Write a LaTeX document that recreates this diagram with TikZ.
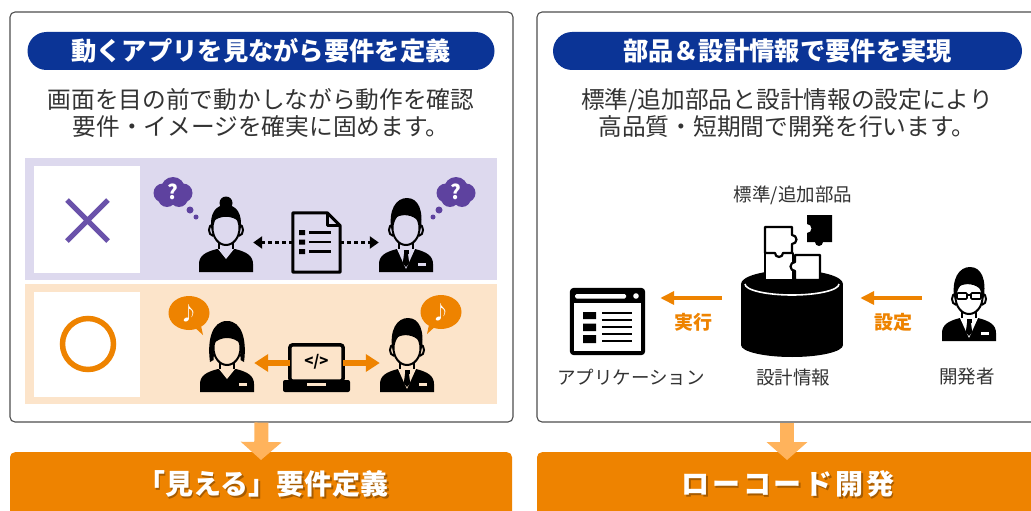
\documentclass[tikz,border=0pt]{standalone}
\usepackage{fontspec}
\setmainfont{Noto Sans CJK JP}
\usetikzlibrary{arrows.meta}

\definecolor{headblue}{HTML}{0B3496}
\definecolor{rowpurple}{HTML}{DDD9EE}
\definecolor{rowpeach}{HTML}{FCE4CA}
\definecolor{markpurple}{HTML}{6A52AA}
\definecolor{cloudpurple}{HTML}{5E429F}
\definecolor{accent}{HTML}{EE8300}
\definecolor{arrowlight}{HTML}{FFB35C}
\definecolor{inkgray}{HTML}{333333}
\definecolor{framegray}{HTML}{4D4D4D}
\colorlet{iconbg}{white}

\newcommand{\fsz}[1]{\fontsize{#1}{#1}\selectfont}

\begin{document}
\begin{tikzpicture}[x=1pt,y=-1pt]
        \tikzset{panel/.style = {draw=framegray, line width=1.1pt, rounded corners=5pt, fill=white, inner sep=0}}
        \tikzset{pill/.style = {fill=headblue, rounded corners=19pt, minimum height=38pt, text=white, font=\bfseries\fsz{25.3}, inner sep=0}}
        \tikzset{lead/.style = {text=inkgray, font=\fontsize{23.7}{27}\selectfont, align=center, inner sep=0}}
        \tikzset{caption/.style = {text=inkgray, font=\fsz{18.5}, inner sep=0}}
        \tikzset{tag/.style = {text=accent, font=\bfseries\fsz{19}, inner sep=0}}
        \tikzset{bar/.style = {fill=accent, rounded corners=5pt, minimum height=90pt, inner sep=0, anchor=north}}
        \tikzset{bartext/.style = {text=white, font=\bfseries\fsz{28}, inner sep=0}}
        \tikzset{iconbox/.style = {inner sep=0, minimum width=54pt, minimum height=70pt}}
        \tikzset{dotflow/.style = {line width=3pt, dash pattern=on 4pt off 3pt, -{Triangle[length=9pt,width=12pt]}}}
        \tikzset{bothflow/.style = {line width=6pt, accent, -{Triangle[length=14pt,width=17pt]}}}
        \tikzset{flow/.style = {line width=4pt, accent, -{Triangle[length=14pt,width=13pt]}}}
        \tikzset{down/.style = {line width=14pt, arrowlight, -{Triangle[length=18pt,width=40pt]}}}
        \tikzset{piece/.style = {draw, line width=2.2pt, fill=white, line join=round}}
        % people icons, origin at the face
        \tikzset{
          torso/.pic = {
            \fill (-27,44) -- (-27,36) .. controls (-27,28) and (-21,24) .. (-9,21) -- (9,21) .. controls (21,24) and (27,28) .. (27,36) -- (27,44) -- cycle;
            \draw[line width=2pt] (-7,12) -- (-7,21) (7,12) -- (7,21);
            \draw[line width=2pt, fill=iconbg] (-13.5,2) ellipse [x radius=3.5, y radius=5.5] (13.5,2) ellipse [x radius=3.5, y radius=5.5];
            \draw[line width=2pt, fill=iconbg] (0,0) ellipse [x radius=13.5, y radius=17];
          },
          man/.pic = {
            \pic {torso};
            \fill[iconbg] (-9,21) -- (0,41) -- (9,21) -- cycle;
            \fill (-2.5,22) rectangle (2.5,26);
            \fill (-2,26) -- (-3.2,35) -- (0,39) -- (3.2,35) -- (2,26) -- cycle;
            \fill[iconbg] (12,35) rectangle (20,38);
            \fill (-14.5,2) .. controls (-18,-18) and (-10,-30) .. (1,-30) .. controls (12,-30) and (18,-18) .. (14.5,2) -- (13,-6) .. controls (7,-14) and (-4,-14) .. (-9,-11) .. controls (-12,-8) and (-13,-3) .. (-14.5,2) -- cycle;
          },
          woman/.pic = {
            \pic {torso};
            \fill[iconbg] (-8,21) -- (0,31) -- (8,21) -- cycle;
            \fill (0,-25) circle (6.5);
            \fill (-14.5,2) .. controls (-17,-15) and (-10,-23) .. (0,-23) .. controls (10,-23) and (17,-15) .. (14.5,2) -- (13,-6) .. controls (7,-13) and (-7,-13) .. (-13,-6) -- cycle;
          },
          woman bob/.pic = {
            \pic {torso};
            \fill[iconbg] (-8,21) -- (0,31) -- (8,21) -- cycle;
            \fill[iconbg] (12,35) rectangle (20,38);
            \fill (-17,14) .. controls (-20,-8) and (-15,-27) .. (0,-27) .. controls (15,-27) and (20,-8) .. (17,14) -- (13.5,12) -- (13.5,-4) .. controls (7,-12) and (-7,-12) .. (-13.5,-4) -- (-13.5,12) -- cycle;
          },
          engineer/.pic = {
            \pic {man};
            \draw[line width=1.6pt, fill=iconbg, rounded corners=1pt] (-12,-4) rectangle (-2,2) (2,-4) rectangle (12,2);
            \draw[line width=1.6pt] (-2,-2) -- (2,-2) (-12,-2) -- (-14,-2) (12,-2) -- (14,-2);
          },
          doubt/.pic = {
            \fill[cloudpurple] (0,-3) circle (12) (-10,1) circle (9.5) (10,1) circle (9.5) (-6,6) circle (9) (6,6) circle (9);
            \fill[cloudpurple] (17,18) circle (3.5) (23,25) circle (2.5);
            \node[text=white, font=\bfseries\fsz{20}] at (0,0) {?};
          },
          note/.pic = {
            \fill[accent] (0,0) ellipse [x radius=20.5, y radius=17];
            \fill[accent] (3,12) -- (14,22) -- (11,8) -- cycle;
            \node[text=white, font=\fsz{19}] at (0,0) {♪};
          }
        }
        \useasboundingbox (0,0) rectangle (1031,511);
        \clip (0,0) rectangle (1031,511);

        % panels and titles
        \node[panel, minimum width=503pt, minimum height=410pt] (lpanel) at (261.5,217) {};
        \node[panel, minimum width=510pt, minimum height=410pt] (rpanel) at (792,217) {};
        \node[pill, minimum width=467pt] (lhead) at (261,51) {動くアプリを見ながら要件を定義};
        \node[pill, minimum width=469pt] (rhead) at (787.5,51) {部品＆設計情報で要件を実現};
        \node[lead] (llead) at (261,113) {画面を目の前で動かしながら動作を確認\\要件・イメージを確実に固めます。};
        \node[lead] (rlead) at (787,113) {標準/追加部品と設計情報の設定により\\高品質・短期間で開発を行います。};

        % bad way: a spec sheet passed around
        \fill[rowpurple] (25,158) rectangle (497,280);
        \fill[white] (34,166) rectangle (140,273);
        \draw[markpurple, line width=5pt] (67,200) -- (108,241) (108,200) -- (67,241);
        \begin{scope}
          \colorlet{iconbg}{rowpurple}
          \node[iconbox] (woman1) at (226,228) {};
          \node[iconbox] (man1) at (406,228) {};
          \node[iconbox, minimum width=47pt, minimum height=59pt] (doc) at (316.5,242.5) {};
          \pic at (woman1) {woman};
          \pic at (man1) {man};
          \pic at (173,192) {doubt};
          \pic[xscale=-1] at (456,192) {doubt};
          \draw[line width=3pt, fill=rowpurple, line join=round] (doc.south west) -- (doc.north west) -- ([xshift=-13pt]doc.north east) -- ([yshift=-13pt]doc.north east) -- (doc.south east) -- cycle;
          \draw[line width=3pt, line join=round] ([xshift=-13pt]doc.north east) -- ++(0,13) -- ++(13,0);
          \fill (299,230) rectangle (305,235) (299,239.5) rectangle (305,244.5) (299,249) rectangle (305,254);
          \draw[line width=2.5pt] (309,232.5) -- (331,232.5) (309,242) -- (331,242) (309,251.5) -- (331,251.5);
          \draw[dotflow] (doc.west) -- (doc.west -| woman1.east);
          \draw[dotflow] (doc.east) -- (doc.east -| man1.west);
        \end{scope}

        % good way: the running app in front of both
        \fill[rowpeach] (25,284) rectangle (497,404);
        \fill[white] (34,292) rectangle (140,397);
        \draw[accent, line width=5.5pt] (88,344) circle (25.5);
        \begin{scope}
          \colorlet{iconbg}{rowpeach}
          \node[iconbox] (woman2) at (227,348) {};
          \node[iconbox] (man2) at (407,348) {};
          \node[iconbox, minimum width=53pt, minimum height=36pt] (laptop) at (316.5,363) {};
          \pic at (woman2) {woman bob};
          \pic at (man2) {man};
          \pic at (189,313) {note};
          \pic[xscale=-1] at (441,312) {note};
          \draw[line width=3.5pt, fill=rowpeach, rounded corners=3pt] (laptop.south west) rectangle (laptop.north east);
          \fill[rounded corners=2pt] (283,380) rectangle (350,392);
          \fill[rowpeach] (307,383) rectangle (326,386);
          \node[font=\bfseries\fsz{15}, inner sep=0] (code) at (316.5,362) {</>};
          \draw[bothflow] (laptop.west) -- (laptop.west -| woman2.east);
          \draw[bothflow] (laptop.east) -- (laptop.east -| man2.west);
        \end{scope}

        % low-code side
        \node[iconbox, minimum width=75pt, minimum height=67pt] (app) at (607.5,321.5) {};
        \node[iconbox, minimum width=102pt, minimum height=87pt] (db) at (792,313.5) {};
        \node[iconbox, minimum width=70pt] (dev) at (969,297) {};
        \coordinate (flowline) at (0,298);
        % application window
        \fill[rounded corners=4pt] (app.north west) rectangle (app.south east);
        \fill[white] (574,303) rectangle (641,351);
        \fill[white, rounded corners=1.5pt] (575,294) rectangle (626,298.5);
        \fill[white] (636,296) circle (2.8);
        \fill (583,312) rectangle (596,319) (583,323.5) rectangle (596,331) (583,335) rectangle (596,343);
        \draw[line width=2.5pt] (602,313) -- (632,313) (602,320) -- (632,320) (602,327) -- (632,327) (602,334) -- (632,334) (602,341) -- (632,341);
        % database with parts on top
        \fill (741,284) rectangle (843,345);
        \fill (792,284) ellipse [x radius=51, y radius=14];
        \fill (792,345) ellipse [x radius=51, y radius=12];
        \draw[white, line width=1.6pt] (745,284) arc[start angle=180, end angle=0, x radius=47, y radius=11];
        \draw[piece] (765,253) -- (793,253) -- (793,280) -- (765,280) -- cycle;
        \draw[piece] (795,255) -- (820,255) -- (820,280) -- (795,280) -- (795,271) arc[start angle=90, end angle=270, radius=4.5] -- cycle;
        \draw[piece] (765,227) -- (792,227) -- (792,235) arc[start angle=-90, end angle=90, radius=4.5] -- (792,253) -- (783,253) arc[start angle=0, end angle=180, radius=4] -- (765,253) -- cycle;
        \fill (807,215) -- (832,215) -- (832,242) -- (823,242) arc[start angle=0, end angle=180, radius=4] -- (807,242) -- (807,233) arc[start angle=90, end angle=-90, radius=4.5] -- cycle;
        \begin{scope}[shift={(dev)}, scale=1.25, every pic/.style={transform shape}]
          \pic at (0,0) {engineer};
        \end{scope}
        \draw[flow, shorten <=19pt, shorten >=15pt] (db.west |- flowline) -- (app.east |- flowline);
        \draw[flow, shorten <=12pt, shorten >=17pt] (dev.west |- flowline) -- (db.east |- flowline);
        \node[tag] (run) at (693,322) {実行};
        \node[tag] (set) at (893,322) {設定};
        \node[caption] (parts) at (793,195) {標準/追加部品};
        \node[caption] (appname) at (631,377) {アプリケーション};
        \node[caption] (dbname) at (793,377) {設計情報};
        \node[caption] (devname) at (967,377) {開発者};

        % result bars
        \node[bar, minimum width=502pt] (lbar) at (261,452) {};
        \node[bar, minimum width=510pt] (rbar) at (792,452) {};
        \draw[down] (lpanel.south) -- ([yshift=-8pt]lbar.north);
        \draw[down] ([xshift=-5pt]rpanel.south) -- ([xshift=-5pt,yshift=-8pt]rbar.north);
        \node[bartext, text=black, opacity=.3] (lshade) at (264.5,485.5) {「見える」要件定義};
        \node[bartext] (ltitle) at (263,484) {「見える」要件定義};
        \node[bartext, text=black, opacity=.3] (rshade) at (789.5,485.5) {\addfontfeature{LetterSpace=10}ローコード開発};
        \node[bartext] (rtitle) at (788,484) {\addfontfeature{LetterSpace=10}ローコード開発};
\end{tikzpicture}
\end{document}
